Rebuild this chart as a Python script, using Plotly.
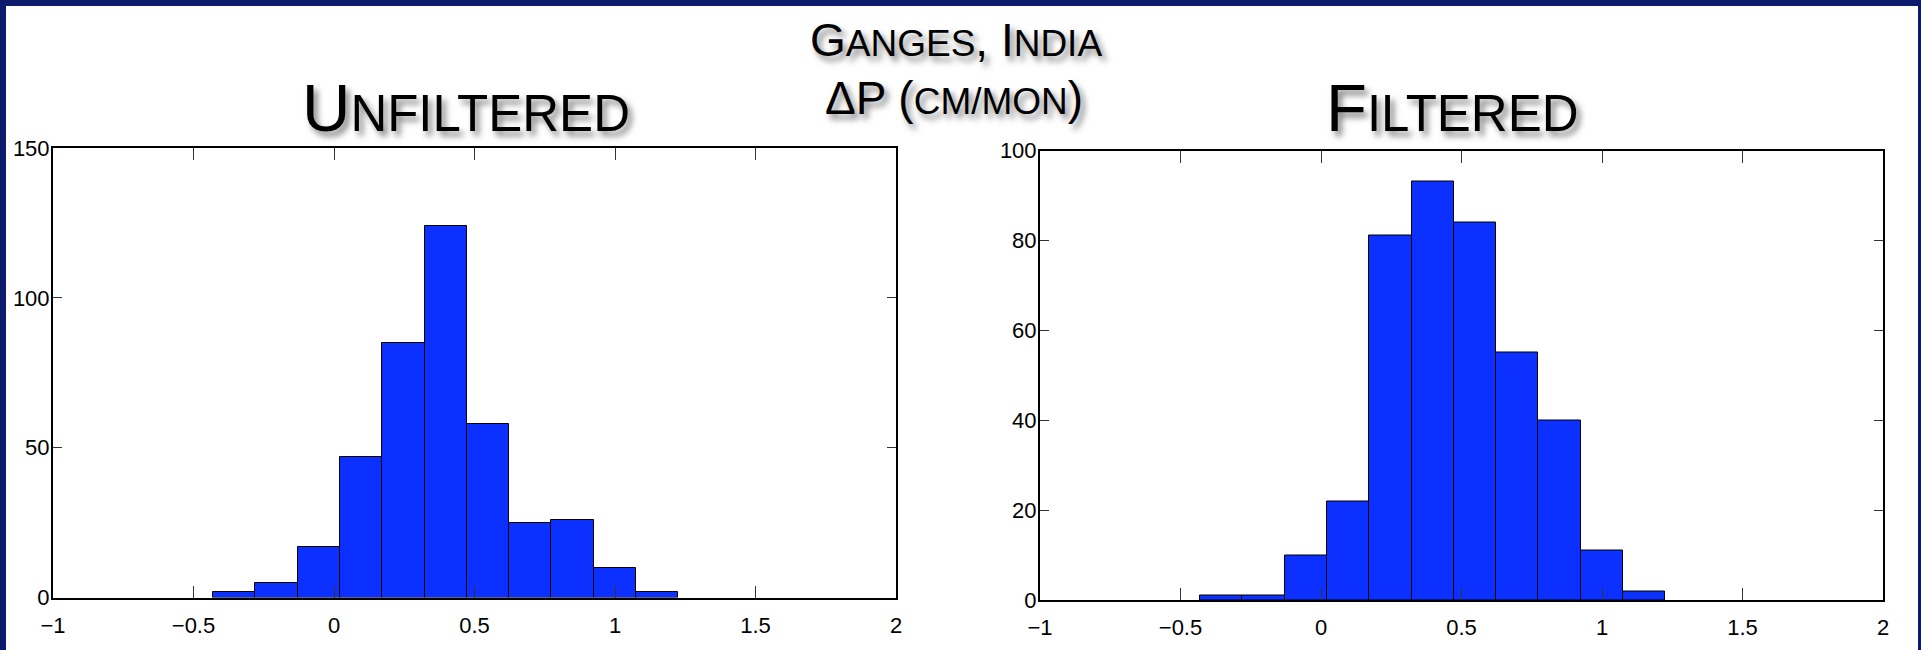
import plotly.graph_objects as go

# ---- data ----
bin_centers = [-0.355, -0.205, -0.054, 0.097, 0.247, 0.398, 0.548, 0.698, 0.849, 0.999, 1.150]
bin_width = 0.1505
counts_unfiltered = [2, 5, 17, 47, 85, 124, 58, 25, 26, 10, 2]
counts_filtered = [1, 1, 10, 22, 81, 93, 84, 55, 40, 11, 2]

x_ticks = [-1, -0.5, 0, 0.5, 1, 1.5, 2]
x_tick_labels = ["−1", "−0.5", "0", "0.5", "1", "1.5", "2"]
y_ticks_unfiltered = [0, 50, 100, 150]
y_ticks_filtered = [0, 20, 40, 60, 80, 100]

title_main_1 = "G<span style='font-size:37px'>ANGES</span>, I<span style='font-size:37px'>NDIA</span>"
title_main_2 = "ΔP (<span style='font-size:37px'>CM/MON</span>)"
title_left = "U<span style='font-size:51px'>NFILTERED</span>"
title_right = "F<span style='font-size:51px'>ILTERED</span>"

W, H = 1921, 650
BAR_COLOR = "#0c30ff"
NAVY = "#0b1a6b"
TICK_FONT = dict(family="Liberation Sans, Arial, Helvetica, sans-serif", size=22, color="black")
TITLE_FONT = "Liberation Sans, Arial, Helvetica, sans-serif"
SHADOW = "4px 5px 6px rgba(0,0,0,0.5)"

fig = go.Figure()
fig.add_trace(go.Bar(x=bin_centers, y=counts_unfiltered, width=bin_width,
                     marker=dict(color=BAR_COLOR, line=dict(color="black", width=1)),
                     xaxis="x", yaxis="y", showlegend=False))
fig.add_trace(go.Bar(x=bin_centers, y=counts_filtered, width=bin_width,
                     marker=dict(color=BAR_COLOR, line=dict(color="black", width=1)),
                     xaxis="x2", yaxis="y2", showlegend=False))

def px_x(p):
    return p / W

def px_y(p):
    return 1 - p / H

common_x = dict(range=[-1, 2], tickvals=x_ticks, ticktext=x_tick_labels,
                ticks="inside", ticklen=12, tickwidth=1, tickcolor="#333",
                showline=True, linecolor="black", linewidth=2, mirror="ticks",
                showgrid=False, zeroline=False, tickfont=TICK_FONT, ticklabelstandoff=7,
                automargin=False, fixedrange=True)
common_y = dict(ticks="inside", ticklen=9, tickwidth=1, tickcolor="#333",
                showline=True, linecolor="black", linewidth=2, mirror="ticks",
                showgrid=False, zeroline=False, tickfont=TICK_FONT, ticklabelstandoff=-3,
                automargin=False, fixedrange=True)

fig.update_layout(
    width=W, height=H,
    margin=dict(l=0, r=0, t=0, b=0, pad=0, autoexpand=False),
    paper_bgcolor=NAVY, plot_bgcolor="white",
    bargap=0,
    xaxis=dict(domain=[px_x(53), px_x(896)], anchor="y", **common_x),
    yaxis=dict(domain=[px_y(597.5), px_y(148)], anchor="x", range=[0, 150],
               tickvals=y_ticks_unfiltered, **common_y),
    xaxis2=dict(domain=[px_x(1040), px_x(1883)], anchor="y2", **common_x),
    yaxis2=dict(domain=[px_y(600), px_y(150.5)], anchor="x2", range=[0, 100],
                tickvals=y_ticks_filtered, **common_y),
    shapes=[dict(type="rect", xref="paper", yref="paper", layer="below",
                 x0=px_x(6), x1=px_x(1918), y0=-0.01, y1=px_y(6),
                 fillcolor="white", line=dict(width=0))],
)

def add_title(text, cx, cy, size):
    fig.add_annotation(text=text, xref="paper", yref="paper", x=px_x(cx), y=px_y(cy),
                       xanchor="center", yanchor="middle", showarrow=False,
                       font=dict(family=TITLE_FONT, size=size, color="black", shadow=SHADOW))

add_title(title_main_1, 956, 40, 46)
add_title(title_main_2, 954, 98, 46)
add_title(title_left, 466, 108, 67)
add_title(title_right, 1452, 108, 67)

fig.write_html("out.html", config={"displayModeBar": False})
